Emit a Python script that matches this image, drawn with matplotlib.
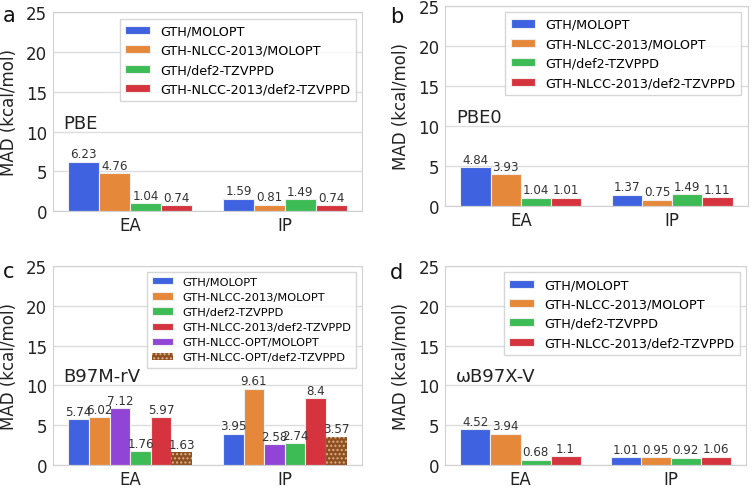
import numpy as np
import matplotlib
matplotlib.use("Agg")
from matplotlib import pyplot as plt

# data
groups = ["EA", "IP"]
methods4 = ["GTH/MOLOPT", "GTH-NLCC-2013/MOLOPT", "GTH/def2-TZVPPD", "GTH-NLCC-2013/def2-TZVPPD"]
pbe = [[6.23, 1.59], [4.76, 0.81], [1.04, 1.49], [0.74, 0.74]]
pbe0 = [[4.84, 1.37], [3.93, 0.75], [1.04, 1.49], [1.01, 1.11]]
wb97xv = [[4.52, 1.01], [3.94, 0.95], [0.68, 0.92], [1.1, 1.06]]

# panel c: bar order differs from legend order
methods6 = ["GTH/MOLOPT", "GTH-NLCC-2013/MOLOPT", "GTH-NLCC-OPT/MOLOPT",
            "GTH/def2-TZVPPD", "GTH-NLCC-2013/def2-TZVPPD", "GTH-NLCC-OPT/def2-TZVPPD"]
b97mrv = [[5.74, 3.95], [6.02, 9.61], [7.12, 2.58], [1.76, 2.74], [5.97, 8.4], [1.63, 3.57]]
legend_order6 = [0, 1, 3, 4, 2, 5]

colors = {
    "GTH/MOLOPT": "#3f63e0",
    "GTH-NLCC-2013/MOLOPT": "#e6883a",
    "GTH/def2-TZVPPD": "#3dbb55",
    "GTH-NLCC-2013/def2-TZVPPD": "#d5343f",
    "GTH-NLCC-OPT/MOLOPT": "#9145d6",
    "GTH-NLCC-OPT/def2-TZVPPD": "#8f4f1f",
}

fig = plt.figure(figsize=(7.56, 4.89), dpi=100)
positions = [
    [0.070, 0.566, 0.409, 0.407],
    [0.589, 0.577, 0.400, 0.409],
    [0.070, 0.047, 0.409, 0.407],
    [0.589, 0.047, 0.398, 0.407],
]
panels = [
    ("a", "PBE", methods4, pbe, None),
    ("b", "PBE0", methods4, pbe0, None),
    ("c", "B97M-rV", methods6, b97mrv, legend_order6),
    ("d", "\u03c9B97X-V", methods4, wb97xv, None),
]
letter_xy = [(0.004, 0.968), (0.516, 0.965), (0.004, 0.443), (0.516, 0.441)]

for pos, (letter, name, methods, vals, order), lxy in zip(positions, panels, letter_xy):
    ax = fig.add_axes(pos)
    n = len(methods)
    x = np.arange(len(groups))
    w = 0.8 / n
    handles = []
    for i, m in enumerate(methods):
        off = -0.4 + w * (i + 0.5)
        if "OPT/def2" in m:
            bars = ax.bar(x + off, vals[i], w, color=colors[m], edgecolor="#d8b48e",
                          hatch="....", linewidth=0, label=m, zorder=2)
        else:
            bars = ax.bar(x + off, vals[i], w, color=colors[m], edgecolor="#eeeeee",
                          linewidth=0.8, label=m, zorder=2)
        ax.bar_label(bars, labels=[str(v) for v in vals[i]], padding=1,
                     fontsize=8.6, color="#333333")
        handles.append(bars)
    ax.set_xlim(-0.5, 1.5)
    ax.set_ylim(0, 25)
    ax.set_yticks([0, 5, 10, 15, 20, 25])
    ax.set_xticks(x)
    ax.set_xticklabels(groups)
    ax.tick_params(axis="both", labelsize=12, colors="#222222", length=0)
    ax.tick_params(axis="y", pad=4)
    ax.tick_params(axis="x", pad=3.5)
    ax.set_ylabel("MAD (kcal/mol)", fontsize=12, color="#222222", labelpad=6)
    ax.yaxis.grid(True, color="#dddddd", linewidth=1, zorder=0)
    ax.set_axisbelow(True)
    for s in ax.spines.values():
        s.set_color("#d0d0d0")
    ax.text(-0.43, 10.5, name, fontsize=13, color="#222222", va="baseline")
    if order is None:
        ax.legend(fontsize=9.2, loc="upper right", handlelength=1.9, handleheight=0.6,
                  labelspacing=0.5, borderpad=0.45, edgecolor="#cccccc", fancybox=False)
    else:
        hs = [handles[k] for k in order]
        ls = [methods[k] for k in order]
        ax.legend(hs, ls, fontsize=8.2, loc="upper right", handlelength=1.9, handleheight=0.6,
                  labelspacing=0.45, borderpad=0.45, edgecolor="#cccccc", fancybox=False)
    fig.text(lxy[0], lxy[1], letter, fontsize=15, color="#111111", va="center")

fig.savefig("out.png", dpi=100)
